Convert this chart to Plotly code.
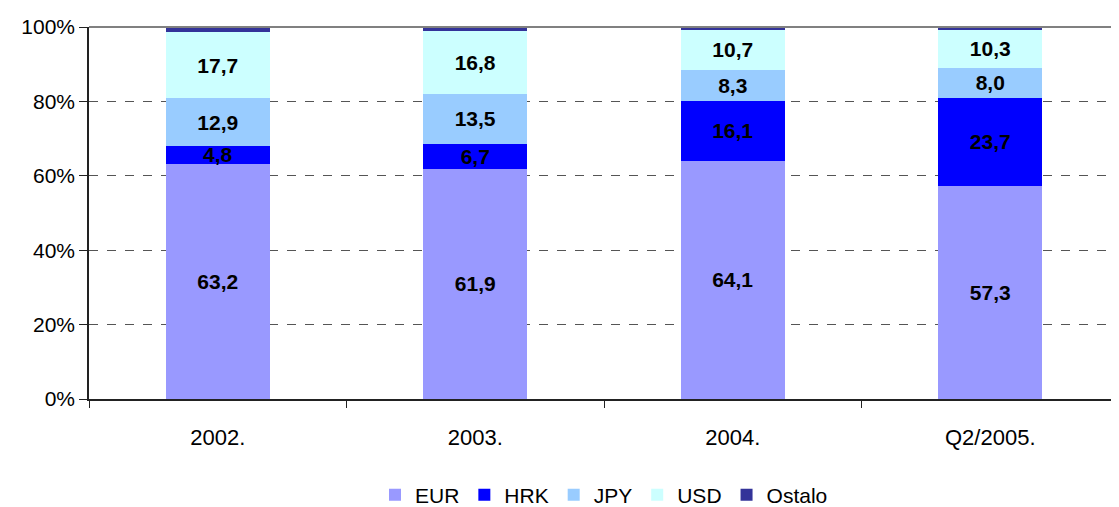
import plotly.graph_objects as go

categories = ['2002.', '2003.', '2004.', 'Q2/2005.']
eur = [63.2, 61.9, 64.1, 57.3]
hrk = [4.8, 6.7, 16.1, 23.7]
jpy = [12.9, 13.5, 8.3, 8.0]
usd = [17.7, 16.8, 10.7, 10.3]
ostalo = [1.4, 1.1, 0.8, 0.7]

series = [
    ('EUR', eur, '#9999FF', True),
    ('HRK', hrk, '#0000FF', True),
    ('JPY', jpy, '#99CCFF', True),
    ('USD', usd, '#CCFFFF', True),
    ('Ostalo', ostalo, '#333399', False),
]

fig = go.Figure()
for name, vals, color, show_text in series:
    fig.add_trace(go.Bar(
        x=categories,
        y=vals,
        name=name,
        marker=dict(color=color, line=dict(width=0)),
        text=[f'{v:.1f}'.replace('.', ',') for v in vals] if show_text else None,
        textposition='inside' if show_text else 'none',
        insidetextanchor='middle',
        textangle=0,
        textfont=dict(family='Liberation Sans, Arial', size=21, color='black', weight='bold'),
        hoverinfo='x+y+name',
    ))

# page body has an 8px margin, so the figure is offset by 8px
fig.update_layout(
    barmode='stack',
    bargap=0.595,
    width=1111,
    height=499,
    margin=dict(l=81, r=0, t=19, b=108),
    plot_bgcolor='white',
    paper_bgcolor='white',
    font=dict(family='Liberation Sans, Arial', size=21, color='black'),
    uniformtext=dict(minsize=21, mode='show'),
    showlegend=True,
    legend=dict(orientation='h', x=0.5, xanchor='center', xref='paper',
                y=0.024, yanchor='middle', yref='container',
                traceorder='normal', font=dict(size=21), itemwidth=30, tracegroupgap=0),
)

fig.update_xaxes(
    automargin=False,
    showline=True, linecolor='#222222', linewidth=1.5,
    ticks='outside', tickson='boundaries', ticklen=7, tickcolor='#222222',
    ticklabelstandoff=18,
    tickfont=dict(size=22),
    showgrid=False,
)
fig.update_yaxes(
    automargin=False,
    range=[0, 100], tickvals=[0, 20, 40, 60, 80, 100],
    ticktext=['0%', '20%', '40%', '60%', '80%', '100%'],
    showline=True, linecolor='#222222', linewidth=1.5,
    ticks='outside', ticklen=8, tickcolor='#222222',
    tickfont=dict(size=21),
    showgrid=True, gridcolor='#555555', griddash='dash', gridwidth=1,
    zeroline=False,
)

# solid top border of the plot area
fig.add_shape(type='line', xref='paper', yref='paper', x0=0, x1=1, y0=1, y1=1,
              line=dict(color='#808080', width=2))

fig.write_html("out.html")
